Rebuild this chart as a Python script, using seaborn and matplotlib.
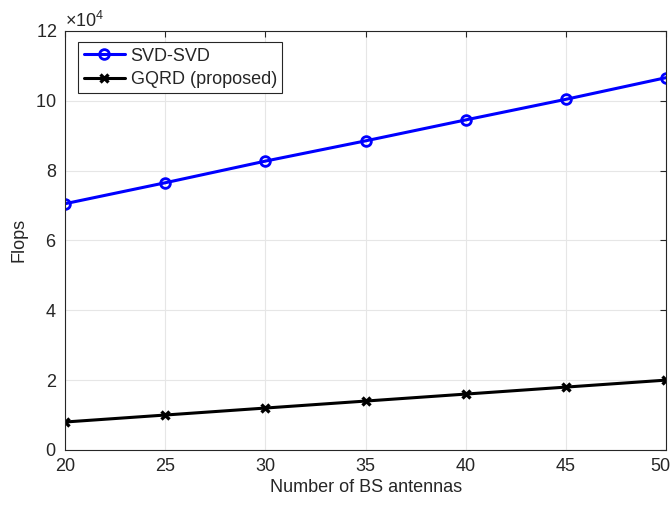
import matplotlib
matplotlib.use("Agg")
import matplotlib.pyplot as plt
import matplotlib.transforms as mtransforms
import seaborn as sns
import pandas as pd
from matplotlib.ticker import ScalarFormatter

antennas = [20, 25, 30, 35, 40, 45, 50]
svd_svd = [70500, 76500, 82700, 88500, 94500, 100400, 106600]
gqrd = [8000, 10000, 12000, 14000, 16000, 18000, 20000]
series_names = ["SVD-SVD", "GQRD (proposed)"]

df_svd = pd.DataFrame({"N": antennas, "Flops": svd_svd})
df_gqrd = pd.DataFrame({"N": antennas, "Flops": gqrd})

sns.set_theme(style="whitegrid")
plt.rcParams['font.family'] = ['Liberation Sans', 'DejaVu Sans']
plt.rcParams['mathtext.fontset'] = 'custom'
plt.rcParams['mathtext.rm'] = 'Liberation Sans'

fig = plt.figure(figsize=(6.71, 5.05), dpi=100)
ax = fig.add_axes([0.097, 0.109, 0.896, 0.830])

sns.lineplot(data=df_svd, x="N", y="Flops", color="#0000ff", marker="o",
             linewidth=2.2, markersize=7, markerfacecolor="none",
             markeredgecolor="#0000ff", markeredgewidth=2,
             label=series_names[0], ax=ax)
sns.lineplot(data=df_gqrd, x="N", y="Flops", color="black", marker="x",
             linewidth=2.2, markersize=6, markeredgecolor="black",
             markeredgewidth=2.4, label=series_names[1], ax=ax)

ax.set_xlim(20, 50)
ax.set_ylim(0, 120000)
ax.set_xticks(antennas)
ax.set_yticks(range(0, 120001, 20000))
fmt = ScalarFormatter(useMathText=True)
fmt.set_powerlimits((4, 4))
ax.yaxis.set_major_formatter(fmt)
ax.yaxis.get_offset_text().set_fontsize(13)
ax.yaxis.get_offset_text().set_color("#262626")

ax.set_xlabel("Number of BS antennas", fontsize=13, color="#262626", labelpad=3)
ax.set_ylabel("Flops", fontsize=13, color="#262626", labelpad=6)
ax.tick_params(direction="in", length=4, width=0.8, labelsize=13,
               colors="#262626", top=True, right=True, pad=6)
ax.grid(True, color="#e6e6e6", linewidth=0.8)
for s in ax.spines.values():
    s.set_color("#262626")
    s.set_linewidth(0.8)
ax.set_facecolor("white")

# keep the last x tick label inside the figure edge
last = ax.get_xticklabels()[-1]
last.set_transform(last.get_transform() +
                   mtransforms.ScaledTranslation(-6 / 100, 0, fig.dpi_scale_trans))

leg = ax.legend(loc="upper left", fontsize=13, frameon=True,
                fancybox=False, edgecolor="#262626", framealpha=1,
                borderpad=0.3, labelspacing=0.35, handlelength=2.3,
                handletextpad=0.3, borderaxespad=0,
                bbox_to_anchor=(0.022, 0.973))
leg.get_frame().set_linewidth(0.8)

fig.savefig("out.png", dpi=100)
